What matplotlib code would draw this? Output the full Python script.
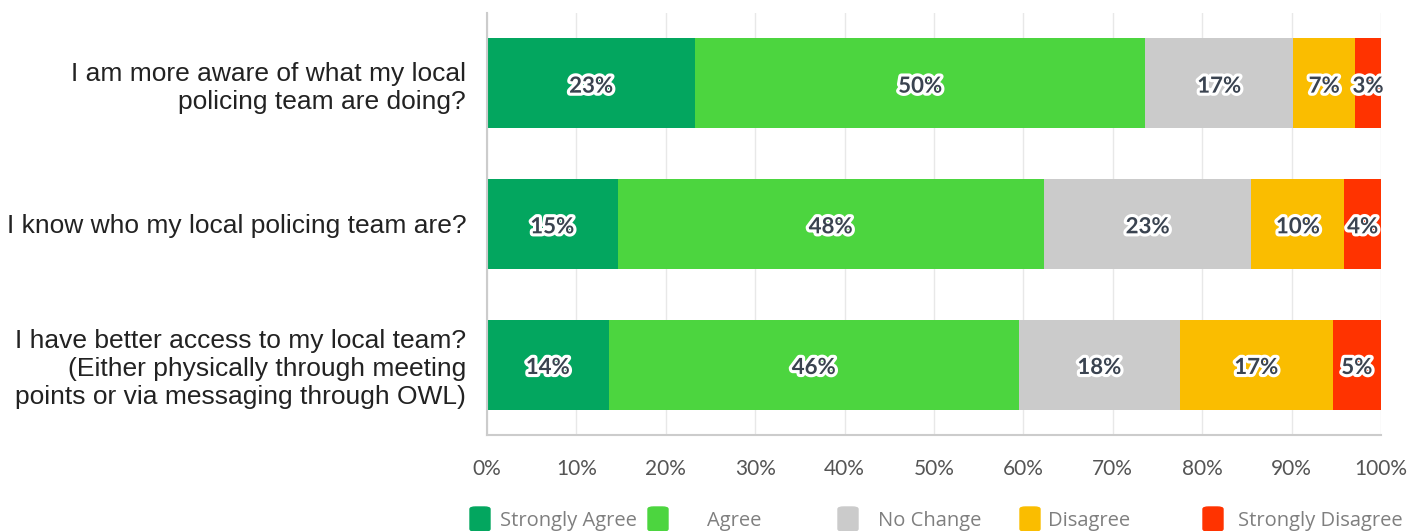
import matplotlib
matplotlib.use("Agg")
import matplotlib.pyplot as plt
import matplotlib.patheffects as pe
from matplotlib.patches import FancyBboxPatch
import numpy as np

# ── Data ──────────────────────────────────────────────────────────────
questions = [
    "I am more aware of what my local\npolicing team are doing?",
    "I know who my local policing team are?",
    "I have better access to my local team?\n(Either physically through meeting\npoints or via messaging through OWL)",
]
responses = ["Strongly Agree", "Agree", "No Change", "Disagree", "Strongly Disagree"]
strongly_agree = [23.3, 14.6, 13.6]
agree = [50.3, 47.7, 45.9]
no_change = [16.6, 23.2, 18.0]
disagree = [6.9, 10.4, 17.1]
strongly_disagree = [2.9, 4.1, 5.4]
x_ticks = [0, 10, 20, 30, 40, 50, 60, 70, 80, 90, 100]

colours = ["#03a65f", "#4cd53f", "#cbcbcb", "#fabd00", "#ff3300"]

# ── Figure ────────────────────────────────────────────────────────────
W, H = 1410, 531
fig = plt.figure(figsize=(W / 100, H / 100), dpi=100, facecolor="white")
ax = fig.add_axes([487 / W, 1 - 435 / H, (1381 - 487) / W, (435 - 13) / H])

series = [strongly_agree, agree, no_change, disagree, strongly_disagree]
y = np.arange(len(questions))
left = np.zeros(len(questions))
for vals, col in zip(series, colours):
    vals = np.array(vals)
    ax.barh(y, vals, left=left, height=0.64, color=col, zorder=2)
    for yi, (l, v) in enumerate(zip(left, vals)):
        ax.text(l + v / 2, yi + 0.02, f"{round(v):.0f}%", ha="center", va="center",
                fontsize=16, fontweight="bold", color="#3a4350",
                family=["Lato", "DejaVu Sans"], zorder=3,
                path_effects=[pe.withStroke(linewidth=4.5, foreground="white")])
    left += vals

ax.set_xlim(0, 100)
ax.set_ylim(2.5, -0.5)
ax.set_yticks(y)
ax.set_yticklabels(questions, fontsize=19, color="#222222",
                   family=["Liberation Sans", "DejaVu Sans"])
ax.set_xticks(x_ticks)
ax.set_xticklabels([f"{t}%" for t in x_ticks], fontsize=15, color="#555555",
                   family=["Lato", "DejaVu Sans"])
ax.tick_params(axis="both", length=0)
ax.tick_params(axis="x", pad=17)
ax.tick_params(axis="y", pad=15)
ax.grid(axis="x", color="#e8e8e8", lw=1, zorder=0)
for side in ["top", "right"]:
    ax.spines[side].set_visible(False)
for side in ["left", "bottom"]:
    ax.spines[side].set_color("#cccccc")
    ax.spines[side].set_linewidth(1.5)

# ── Legend (manual, to match uneven spacing) ──────────────────────────
box_x = [470, 648, 838, 1020, 1203]
text_x = [500, 707, 878, 1048, 1238]
for bx, tx, lab, col in zip(box_x, text_x, responses, colours):
    fig.add_artist(FancyBboxPatch((bx / W, 1 - 531 / H), 20 / W, 24 / H,
                                  boxstyle="round,pad=0,rounding_size=0.004",
                                  transform=fig.transFigure, color=col,
                                  clip_on=False))
    fig.text(tx / W, 1 - 521 / H, lab, fontsize=14.5, color="#7f7f7f",
             va="center", ha="left",
             family=["Liberation Sans Narrow", "Open Sans", "DejaVu Sans"])

fig.savefig("out.png", dpi=100)
